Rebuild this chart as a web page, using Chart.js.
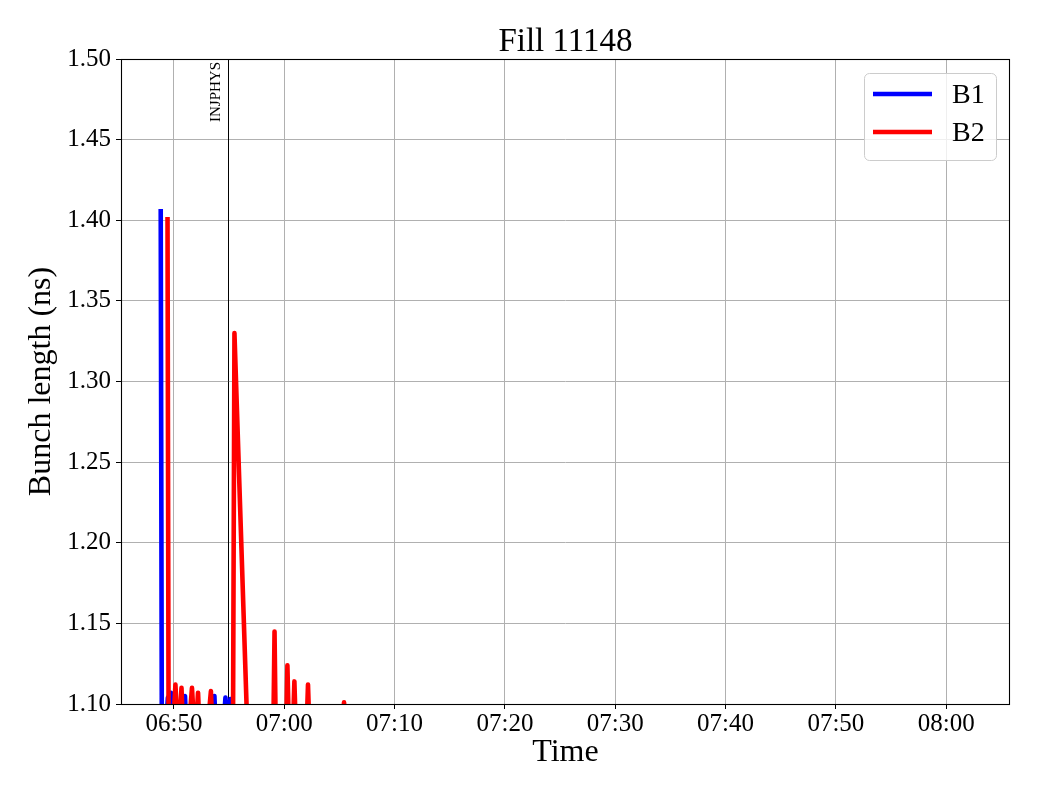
<!DOCTYPE html>
<html>
<head>
<meta charset="utf-8">
<script src="https://cdn.jsdelivr.net/npm/chart.js@4"></script>
<style>
  html, body { margin: 0; padding: 0; background: #fff; }
  canvas { display: block; }
</style>
</head>
<body>
<canvas id="myChart" width="1040" height="800"></canvas>
<script>
// values (times are hh:mm:ss)
const chartTitle = "Fill 11148";

const b1Times = [
  "06:48:48", "06:48:55", "06:49:22", "06:49:27", "06:49:35", "06:49:44",
  "06:49:53", "06:50:51", "06:51:00", "06:51:09", "06:53:31", "06:53:40",
  "06:53:49", "06:54:32", "06:54:40", "06:54:50", "06:55:01", "06:55:07",
  "06:55:15", "07:30:00", "08:02:10",
];
const b1Values = [
  1.407, 1.03, 1.095, 1.104, 1.098, 1.107,
  1.09, 1.095, 1.105, 1.08, 1.09, 1.105,
  1.08, 1.09, 1.104, 1.09, 1.095, 1.103,
  1.08, 1.07, 1.06,
];

const b2Times = [
  "06:49:25", "06:49:32", "06:49:58", "06:50:08", "06:50:18", "06:50:32",
  "06:50:41", "06:50:51", "06:51:28", "06:51:38", "06:51:48", "06:52:02",
  "06:52:11", "06:52:21", "06:53:11", "06:53:21", "06:53:31", "06:55:20",
  "06:55:29", "06:56:49", "06:58:58", "06:59:07", "06:59:16", "07:00:08",
  "07:00:17", "07:00:26", "07:00:46", "07:00:55", "07:01:04", "07:02:00",
  "07:02:09", "07:02:18", "07:05:18", "07:05:25", "07:05:32", "07:30:00",
  "08:02:10",
];
const b2Values = [
  1.402, 1.02, 1.09, 1.112, 1.09, 1.09,
  1.110, 1.08, 1.095, 1.110, 1.09, 1.09,
  1.107, 1.08, 1.095, 1.108, 1.08, 1.05,
  1.330, 1.05, 1.06, 1.145, 1.06, 1.07,
  1.124, 1.08, 1.08, 1.114, 1.08, 1.08,
  1.112, 1.08, 1.09, 1.101, 1.09, 1.07,
  1.06,
];

const xTickLabels = ["06:50", "07:00", "07:10", "07:20", "07:30", "07:40", "07:50", "08:00"];
const yTickValues = [1.10, 1.15, 1.20, 1.25, 1.30, 1.35, 1.40, 1.45, 1.50];
const xRange = ["06:45:12", "08:05:47"];

const modeChange = { time: "06:54:54", label: "INJPHYS" };

const seriesNames = ["B1", "B2"];
const seriesColors = ["#0000ff", "#ff0000"];

// minutes since midnight
function toMin(s) {
  const p = s.split(":").map(Number);
  return p[0] * 60 + p[1] + (p[2] || 0) / 60;
}

function toPoints(times, values) {
  return times.map((t, i) => ({ x: toMin(t), y: values[i] }));
}

const FONT = "'Liberation Serif', 'Times New Roman', serif";

// title, frame, INJPHYS marker and legend box (matplotlib look)
const decorations = {
  id: "decorations",
  beforeDatasetsDraw(chart) {
    const { ctx, chartArea: a, scales } = chart;
    const x = scales.x.getPixelForValue(toMin(modeChange.time));
    ctx.save();
    ctx.strokeStyle = "#000";
    ctx.lineWidth = 1;
    ctx.beginPath();
    ctx.moveTo(Math.round(x) + 0.5, a.top);
    ctx.lineTo(Math.round(x) + 0.5, a.bottom);
    ctx.stroke();
    ctx.translate(x - 4, a.top + 3);
    ctx.rotate(-Math.PI / 2);
    ctx.fillStyle = "#000";
    ctx.font = "15px " + FONT;
    ctx.textAlign = "right";
    ctx.textBaseline = "bottom";
    ctx.fillText(modeChange.label, 0, 0);
    ctx.restore();
  },
  afterDatasetsDraw(chart) {
    const { ctx, chartArea: a } = chart;
    ctx.save();
    // frame
    ctx.strokeStyle = "#000";
    ctx.lineWidth = 1.1;
    ctx.strokeRect(a.left + 0.5, a.top + 0.5, a.right - a.left - 1, a.bottom - a.top);

    // title
    ctx.fillStyle = "#000";
    ctx.font = "33px " + FONT;
    ctx.textAlign = "center";
    ctx.textBaseline = "middle";
    ctx.fillText(chartTitle, (a.left + a.right) / 2, 42);

    // legend
    const bx = a.right - 146, by = a.top + 14, bw = 132, bh = 87;
    ctx.fillStyle = "rgba(255,255,255,0.8)";
    ctx.strokeStyle = "#cccccc";
    ctx.lineWidth = 1;
    ctx.beginPath();
    ctx.roundRect(bx + 0.5, by + 0.5, bw, bh, 5);
    ctx.fill();
    ctx.stroke();
    seriesNames.forEach((name, i) => {
      const y = by + 21 + i * 38;
      ctx.strokeStyle = seriesColors[i];
      ctx.lineWidth = 4.5;
      ctx.beginPath();
      ctx.moveTo(bx + 9, y);
      ctx.lineTo(bx + 68, y);
      ctx.stroke();
      ctx.fillStyle = "#000";
      ctx.font = "28px " + FONT;
      ctx.textAlign = "left";
      ctx.textBaseline = "middle";
      ctx.fillText(name, bx + 88, y + 2);
    });
    ctx.restore();
  },
};

const ctx = document.getElementById("myChart").getContext("2d");
const myChart = new Chart(ctx, {
  type: "line",
  data: {
    datasets: [
      {
        label: seriesNames[0],
        data: toPoints(b1Times, b1Values),
        borderColor: seriesColors[0],
        order: 1,
      },
      {
        label: seriesNames[1],
        data: toPoints(b2Times, b2Values),
        borderColor: seriesColors[1],
        order: 0,
      },
    ],
  },
  options: {
    responsive: false,
    animation: false,
    devicePixelRatio: 1,
    layout: { padding: { top: 59, right: 30, left: 0, bottom: 0 } },
    elements: {
      point: { radius: 0 },
      line: {
        borderWidth: 4.6,
        tension: 0,
        borderJoinStyle: "round",
        borderCapStyle: "butt",
        fill: false,
      },
    },
    datasets: { line: { clip: 0 } },
    plugins: {
      legend: { display: false },
      tooltip: { enabled: false },
      title: { display: false },
    },
    scales: {
      x: {
        type: "linear",
        min: toMin(xRange[0]),
        max: toMin(xRange[1]),
        afterBuildTicks: (s) => {
          s.ticks = xTickLabels.map((t) => ({ value: toMin(t) }));
        },
        afterFit: (s) => {
          s.height = 96;
        },
        ticks: {
          callback: (v, i) => xTickLabels[i],
          color: "#000",
          font: { family: FONT, size: 25 },
          padding: 0,
          maxRotation: 0,
          autoSkip: false,
        },
        grid: {
          color: "#b0b0b0",
          lineWidth: 1,
          tickLength: 5,
          tickColor: "#000",
        },
        border: { display: false },
        title: {
          display: true,
          text: "Time",
          color: "#000",
          font: { family: FONT, size: 32 },
          padding: { top: 0, bottom: 28 },
        },
      },
      y: {
        min: 1.1,
        max: 1.5,
        afterBuildTicks: (s) => {
          s.ticks = yTickValues.map((v) => ({ value: v }));
        },
        afterFit: (s) => {
          s.width = 121;
        },
        ticks: {
          callback: (v) => Number(v).toFixed(2),
          color: "#000",
          font: { family: FONT, size: 25 },
          padding: 5,
        },
        grid: {
          color: "#b0b0b0",
          lineWidth: 1,
          tickLength: 5,
          tickColor: "#000",
        },
        border: { display: false },
        title: {
          display: true,
          text: "Bunch length (ns)",
          color: "#000",
          font: { family: FONT, size: 32 },
          padding: { top: 22, bottom: 0 },
        },
      },
    },
  },
  plugins: [decorations],
});
</script>
</body>
</html>
